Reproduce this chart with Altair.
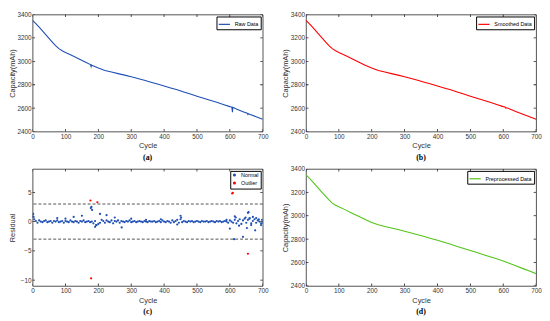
import altair as alt
import pandas as pd

# ---------------- data ----------------
cycles = [0, 10, 20, 30, 40, 50, 60, 70, 80, 90, 100, 120, 140, 160, 180, 200,
          220, 240, 260, 280, 300, 320, 340, 360, 380, 400, 420, 440, 460, 480,
          500, 520, 540, 560, 580, 600, 620, 640, 660, 680, 700]
capacity_smoothed = [3350, 3322, 3292, 3260, 3228, 3196, 3165, 3135, 3108, 3090,
                     3076, 3050, 3022, 2995, 2967, 2942, 2922, 2908, 2895, 2882,
                     2868, 2853, 2838, 2822, 2806, 2790, 2773, 2757, 2738, 2720,
                     2702, 2685, 2667, 2650, 2632, 2613, 2592, 2570, 2548, 2527, 2505]
capacity_raw = capacity_smoothed
capacity_preprocessed = capacity_smoothed
spike_cycles = [176, 178, 179, 606, 608, 609, 653, 655, 657]
spike_values = [2972, 2955, 2969, 2609, 2565, 2607, 2556, 2545, 2553]
smooth_notch_cycles = [605, 608, 611]
smooth_notch_values = [2609, 2600, 2603]

band_cycles = list(range(0, 705, 5))
band_residuals = [0.9, 0.4, 0.1, -0.2, 0.2, 0.0, -0.1, 0.1, 0.2, -0.1,
                  0.0, 0.1, -0.2, 0.1, 0.0, 0.2, -0.1, 0.0, 0.1, -0.2,
                  0.1, 0.0, -0.1, 0.2, 0.0, -0.1, 0.1, 0.0, -0.2, 0.1,
                  0.0, 0.2, -0.1, 0.0, 0.1, -0.1, 0.0, -0.3, 0.1, -0.6,
                  -0.4, -0.2, 0.3, 0.1, -0.2, 0.2, 0.0, -0.1, 0.2, -0.3,
                  0.1, 0.0, 0.2, -0.2, 0.1, 0.0, -0.1, 0.1, 0.0, 0.2,
                  -0.1, 0.0, 0.1, -0.1, 0.0, 0.1, 0.0, -0.1, 0.1, 0.0,
                  -0.1, 0.1, 0.0, 0.0, 0.1, -0.1, 0.0, 0.1, -0.1, 0.2,
                  0.0, -0.1, 0.1, 0.0, -0.2, 0.2, -0.1, 0.1, 0.3, -0.2,
                  0.4, -0.1, 0.1, 0.0, -0.1, 0.1, 0.0, 0.1, -0.1, 0.0,
                  0.1, 0.0, -0.1, 0.1, 0.0, 0.0, 0.1, -0.1, 0.0, 0.1,
                  0.0, -0.1, 0.1, 0.0, 0.1, -0.1, 0.0, 0.1, 0.0, -0.2,
                  0.2, 0.0, -0.2, 0.3, -0.3, 0.1, 0.4, -0.4, 0.2, 0.5,
                  -0.2, 0.3, 0.6, -0.3, 0.1, 0.4, -0.2, 0.2, 0.0, -0.3,
                  -0.2]
extra_cycles = [2, 3, 75, 100, 125, 150, 177, 179, 181, 190, 193, 205, 225, 250,
                271, 300, 345, 390, 440, 450, 452, 590, 600, 613, 615, 618, 628,
                640, 648, 652, 655, 657, 660, 665, 670, 677, 680, 688, 695, 698]
extra_residuals = [1.3, 0.8, 0.6, 0.5, 0.8, 1.0, 2.3, 2.5, 2.0, -0.9, -0.6, 1.3,
                   1.1, 0.7, -1.0, 0.5, 0.3, 0.4, -0.5, 1.0, 0.7, 0.3, -1.2, -3.0,
                   0.9, 0.7, -0.7, -2.6, 0.7, -1.1, 1.5, 1.6, 0.5, -0.6, 0.8, -1.5,
                   0.6, 0.4, -0.6, 0.3]
outlier_cycles = [176, 178, 197, 607, 609, 655]
outlier_residuals = [3.6, -9.7, 3.3, 4.8, 4.9, -5.5]
thresholds = [3, -3]

cap_ticks = [2400, 2600, 2800, 3000, 3200, 3400]
res_ticks = [-10, -5, 0, 5]
cycle_ticks = [0, 100, 200, 300, 400, 500, 600, 700]

BLUE = "#1f4fb4"
RED = "#ff0000"
GREEN = "#52c41a"
AXC = "#262626"
W, H = 234, 119

# ---------------- tables ----------------
raw_df = pd.DataFrame({
    "cycle": cycles + spike_cycles,
    "capacity": capacity_raw + spike_values,
    "series": "Raw Data",
})
smooth_df = pd.DataFrame({
    "cycle": cycles + smooth_notch_cycles,
    "capacity": capacity_smoothed + smooth_notch_values,
    "series": "Smoothed Data",
})
pre_df = pd.DataFrame({
    "cycle": cycles,
    "capacity": capacity_preprocessed,
    "series": "Preprocessed Data",
})
res_df = pd.DataFrame({
    "cycle": band_cycles + extra_cycles + outlier_cycles,
    "residual": band_residuals + extra_residuals + outlier_residuals,
    "type": ["Normal"] * (len(band_cycles) + len(extra_cycles)) + ["Outlier"] * len(outlier_cycles),
})
thr_df = pd.DataFrame({"residual": thresholds})

x_enc = alt.X("cycle:Q", title="Cycle",
              scale=alt.Scale(domain=[0, 700], nice=False),
              axis=alt.Axis(values=cycle_ticks, format="d"))
cap_y = alt.Y("capacity:Q", title="Capacity(mAh)",
              scale=alt.Scale(domain=[2400, 3400], nice=False),
              axis=alt.Axis(values=cap_ticks, format="d"))
res_y = alt.Y("residual:Q", title="Residual",
              scale=alt.Scale(domain=[-11, 9], nice=False),
              axis=alt.Axis(values=res_ticks, format="d"))


def caption(t):
    return alt.TitleParams(t, orient="bottom", font="Liberation Serif",
                           fontWeight="bold", fontSize=8, color="#000000",
                           offset=5, anchor="middle")


def inner_ticks(yfield, yticks, y_enc):
    xt = alt.Chart(pd.DataFrame({"cycle": cycle_ticks}))
    yt = alt.Chart(pd.DataFrame({yfield: yticks}))
    kw = dict(size=5, thickness=0.8, color=AXC, clip=True, opacity=1)
    return [
        xt.mark_tick(**kw).encode(x=x_enc, y=alt.value(H)),
        xt.mark_tick(**kw).encode(x=x_enc, y=alt.value(0)),
        yt.mark_tick(**kw).encode(y=y_enc, x=alt.value(0)),
        yt.mark_tick(**kw).encode(y=y_enc, x=alt.value(W)),
    ]


def cap_panel(df, name, color, cap):
    line = alt.Chart(df).mark_line(strokeWidth=1.1, clip=True).encode(
        x=x_enc,
        y=cap_y,
        color=alt.Color("series:N",
                        scale=alt.Scale(domain=[name], range=[color]),
                        legend=alt.Legend(title=None, symbolType="stroke",
                                          symbolSize=130, symbolStrokeWidth=1.2,
                                          orient="top-right")),
    )
    return alt.layer(line, *inner_ticks("capacity", cap_ticks, cap_y)).properties(
        width=W, height=H, title=caption(cap))


pa = cap_panel(raw_df, "Raw Data", BLUE, "(a)")
pb = cap_panel(smooth_df, "Smoothed Data", RED, "(b)")
pd_ = cap_panel(pre_df, "Preprocessed Data", GREEN, "(d)")

rules = alt.Chart(thr_df).mark_rule(strokeDash=[3, 2], color=AXC,
                                    strokeWidth=0.8).encode(y=res_y)
points = alt.Chart(res_df).mark_point(filled=True, size=5, opacity=1,
                                      clip=True).encode(
    x=x_enc,
    y=res_y,
    color=alt.Color("type:N",
                    scale=alt.Scale(domain=["Normal", "Outlier"], range=[BLUE, RED]),
                    legend=alt.Legend(title=None, symbolType="circle",
                                      symbolSize=10, orient="top-right")),
)
pc = alt.layer(points, rules, *inner_ticks("residual", res_ticks, res_y)).properties(
    width=W, height=H, title=caption("(c)"))

top = alt.hconcat(pa, pb, spacing=13).resolve_scale(color="independent").resolve_legend(color="independent")
bottom = alt.hconcat(pc, pd_, spacing=13).resolve_scale(color="independent").resolve_legend(color="independent")

chart = alt.vconcat(top, bottom, spacing=2).resolve_scale(
    color="independent").resolve_legend(color="independent").properties(
    padding={"left": 0, "top": 0, "right": 0, "bottom": 0}
).configure_view(
    stroke=AXC, strokeWidth=0.8
).configure_axis(
    grid=False, domain=False, ticks=False,
    labelFont="Liberation Sans", labelFontSize=6.5, labelColor="#333333",
    labelPadding=2,
    titleFont="Liberation Sans", titleFontSize=7.5, titleFontWeight="normal",
    titleColor="#333333",
).configure_axisX(
    labelFlush=False, titlePadding=2
).configure_axisY(
    minExtent=15.5, maxExtent=15.5, titlePadding=1, labelPadding=1.5
).configure_legend(
    offset=2, padding=1.5, strokeColor="#000000",
    fillColor="#ffffff", labelFont="Liberation Sans", labelFontSize=5.5,
    labelColor="#000000", rowPadding=1, symbolOffset=0, cornerRadius=0,
)

chart.save("out.html", embed_options={"renderer": "svg", "actions": False})
